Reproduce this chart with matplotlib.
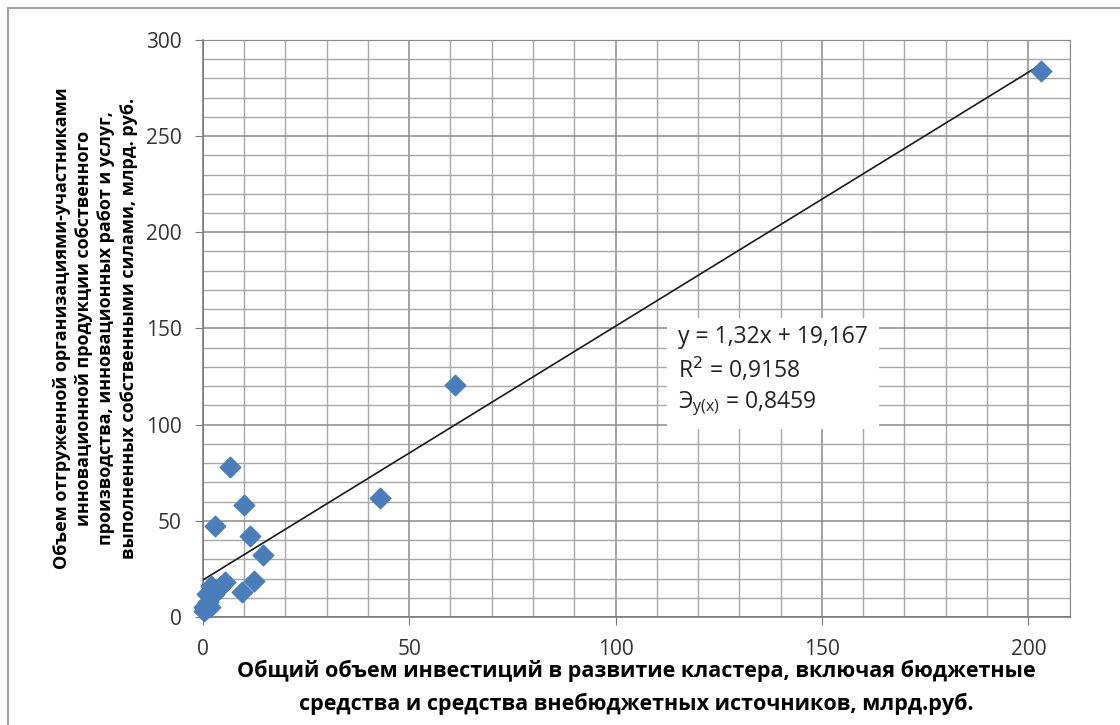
import matplotlib.pyplot as plt
from matplotlib.ticker import MultipleLocator
from matplotlib.lines import Line2D
import numpy as np

# investments (x) vs shipped innovative output (y), bn rub
invest = [203, 61, 43, 6.5, 10, 3, 11.5, 14.5, 12.5, 9.5, 5.5, 4.5, 2.8, 2.0, 1.0, 1.3, 0.3, 0.2, 1.8]
output = [284, 120.5, 62, 78, 58, 47.5, 42, 32, 18.5, 13, 18, 16, 12, 16, 12, 8, 5, 3, 5]
slope, intercept = 1.32, 19.167

eq_lines = ['y = 1,32x + 19,167', 'R$^2$ = 0,9158', 'Э$_{\\mathregular{y(x)}}$ = 0,8459']
x_title = 'Общий объем инвестиций в развитие кластера, включая бюджетные\nсредства и средства внебюджетных источников, млрд.руб.'
y_title = ('Объем отгруженной организациями-участниками\n'
           'инновационной продукции собственного\n'
           'производства, инновационных работ и услуг,\n'
           'выполненных собственными силами, млрд. руб.')

plt.rcParams['font.family'] = ['Open Sans', 'DejaVu Sans']

fig = plt.figure(figsize=(11.2, 7.25), dpi=100)
ax = fig.add_axes([0.181, 0.149, 0.774, 0.796])

# outer chart border (left / top visible)
fig.add_artist(Line2D([0.007, 0.007], [0.0, 0.989], color='#a0a0a0', lw=1.5))
fig.add_artist(Line2D([0.007, 1.0], [0.989, 0.989], color='#a0a0a0', lw=1.5))

ax.set_xlim(0, 210)
ax.set_ylim(0, 300)
ax.xaxis.set_major_locator(MultipleLocator(50))
ax.yaxis.set_major_locator(MultipleLocator(50))
ax.xaxis.set_minor_locator(MultipleLocator(10))
ax.yaxis.set_minor_locator(MultipleLocator(10))
ax.grid(which='major', color='#8a8a8a', lw=1.1)
ax.grid(which='minor', color='#a8a8a8', lw=1.0)
ax.set_axisbelow(True)

for s in ['top', 'right']:
    ax.spines[s].set_color('#8a8a8a')
for s in ['left', 'bottom']:
    ax.spines[s].set_color('#7a7a7a')
    ax.spines[s].set_linewidth(1.2)

ax.tick_params(which='major', length=6, color='#7a7a7a', labelsize=15, labelcolor='#333333')
ax.tick_params(axis='x', which='major', pad=10)
ax.tick_params(axis='y', which='major', pad=9)
ax.tick_params(which='minor', length=0)

xs = np.array([0, max(invest)])
ax.plot(xs, slope * xs + intercept, color='#1a1a1a', lw=1.2, zorder=3)
ax.scatter(invest, output, marker='D', s=110, color='#4a7ebb', zorder=4, clip_on=False)

ax.text(0.548, 0.425, '\n'.join(eq_lines), transform=ax.transAxes, fontsize=16.5,
        color='#222222', va='center', ha='left', linespacing=1.3, zorder=5,
        bbox=dict(facecolor='white', edgecolor='none', pad=8))

ax.set_xlabel(x_title, fontsize=15.5, fontweight='bold', labelpad=0, linespacing=1.6)
ax.set_ylabel(y_title, fontsize=13, fontweight='bold', labelpad=6, linespacing=1.3)

fig.savefig('out.png', dpi=100)
